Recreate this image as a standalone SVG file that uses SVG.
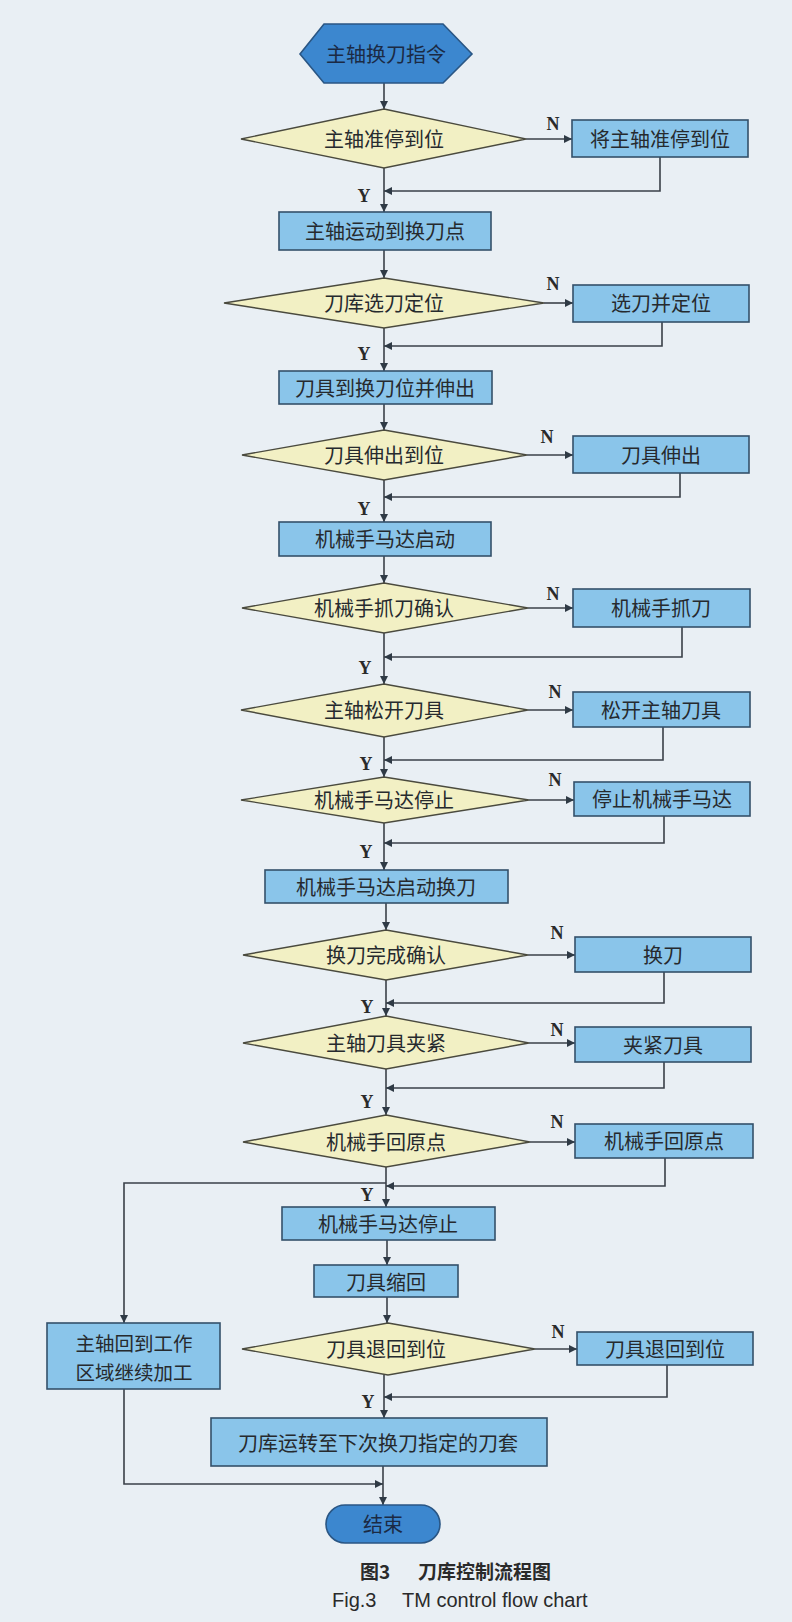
<svg xmlns="http://www.w3.org/2000/svg" width="792" height="1622" viewBox="0 0 792 1622">
<defs>
<marker id="ah" viewBox="0 0 10 10" refX="10" refY="5" markerWidth="8" markerHeight="8" markerUnits="userSpaceOnUse" orient="auto">
<path d="M0,0 L10,5 L0,10 z" fill="#2f3a45"/>
</marker>
<style>
.bg{fill:#e9eff4}
.box{fill:#8ac5ea;stroke:#34506a;stroke-width:1.6}
.dia{fill:#f2f0c4;stroke:#4a4a3e;stroke-width:1.4}
.term{fill:#3c87cf;stroke:#2a5684;stroke-width:1.6}
.t{font-family:"Noto Sans CJK SC","Noto Sans CJK JP",sans-serif;font-size:20px;fill:#262a2e;text-anchor:middle;dominant-baseline:central}
.t2{font-family:"Noto Sans CJK SC","Noto Sans CJK JP",sans-serif;font-size:19.5px;fill:#262a2e;text-anchor:middle;dominant-baseline:central}
.tt{font-family:"Noto Sans CJK SC","Noto Sans CJK JP",sans-serif;font-size:20px;fill:#1b2a44;text-anchor:middle;dominant-baseline:central}
.yn{font-family:"Liberation Serif",serif;font-size:18px;font-weight:bold;fill:#2a2a2a;text-anchor:middle}
.c{fill:none;stroke:#3a4048;stroke-width:1.6}
.cap1{font-family:"Noto Sans CJK SC",sans-serif;font-size:19px;font-weight:bold;fill:#2a2a2a}
.cap2{font-family:"Liberation Sans",Arial,sans-serif;font-size:20px;fill:#2a2a2a}
</style>
</defs>
<rect class="bg" x="0" y="0" width="792" height="1622"/>

<g id="connectors">
<path class="c" marker-end="url(#ah)" d="M384,83 L384,109"/>
<path class="c" marker-end="url(#ah)" d="M526,139 L572,139"/>
<path class="c" marker-end="url(#ah)" d="M660,157 L660,191 L384,191"/>
<path class="c" marker-end="url(#ah)" d="M384,168 L384,212"/>
<path class="c" marker-end="url(#ah)" d="M384,250 L384,278"/>
<path class="c" marker-end="url(#ah)" d="M544,303 L573,303"/>
<path class="c" marker-end="url(#ah)" d="M662,322 L662,346 L384,346"/>
<path class="c" marker-end="url(#ah)" d="M384,328 L384,371"/>
<path class="c" marker-end="url(#ah)" d="M384,404 L384,430"/>
<path class="c" marker-end="url(#ah)" d="M527,455 L573,455"/>
<path class="c" marker-end="url(#ah)" d="M680,473 L680,497 L384,497"/>
<path class="c" marker-end="url(#ah)" d="M384,480 L384,522"/>
<path class="c" marker-end="url(#ah)" d="M384,556 L384,583"/>
<path class="c" marker-end="url(#ah)" d="M528,608 L573,608"/>
<path class="c" marker-end="url(#ah)" d="M682,627 L682,657 L384,657"/>
<path class="c" marker-end="url(#ah)" d="M384,633 L384,684"/>
<path class="c" marker-end="url(#ah)" d="M528,710 L573,710"/>
<path class="c" marker-end="url(#ah)" d="M663,727 L663,760 L384,760"/>
<path class="c" marker-end="url(#ah)" d="M384,737 L384,777"/>
<path class="c" marker-end="url(#ah)" d="M529,800 L574,800"/>
<path class="c" marker-end="url(#ah)" d="M664,816 L664,843 L384,843"/>
<path class="c" marker-end="url(#ah)" d="M384,823 L384,870"/>
<path class="c" marker-end="url(#ah)" d="M386,903 L386,930"/>
<path class="c" marker-end="url(#ah)" d="M528,955 L575,955"/>
<path class="c" marker-end="url(#ah)" d="M664,972 L664,1003 L386,1003"/>
<path class="c" marker-end="url(#ah)" d="M386,980 L386,1016"/>
<path class="c" marker-end="url(#ah)" d="M529,1043 L575,1043"/>
<path class="c" marker-end="url(#ah)" d="M664,1062 L664,1088 L386,1088"/>
<path class="c" marker-end="url(#ah)" d="M386,1069 L386,1115"/>
<path class="c" marker-end="url(#ah)" d="M530,1142 L575,1142"/>
<path class="c" marker-end="url(#ah)" d="M665,1158 L665,1186 L386,1186"/>
<path class="c" marker-end="url(#ah)" d="M386,1167 L386,1207"/>
<path class="c" marker-end="url(#ah)" d="M386,1183 L124,1183 L124,1323"/>
<path class="c" marker-end="url(#ah)" d="M387,1240 L387,1265"/>
<path class="c" marker-end="url(#ah)" d="M387,1297 L387,1323"/>
<path class="c" marker-end="url(#ah)" d="M535,1349 L577,1349"/>
<path class="c" marker-end="url(#ah)" d="M667,1365 L667,1397 L384,1397"/>
<path class="c" marker-end="url(#ah)" d="M384,1375 L384,1418"/>
<path class="c" marker-end="url(#ah)" d="M383,1466 L383,1505"/>
<path class="c" marker-end="url(#ah)" d="M124,1389 L124,1484 L383,1484"/>
<text class="yn" x="553" y="130">N</text>
<text class="yn" x="364" y="202">Y</text>
<text class="yn" x="553" y="290">N</text>
<text class="yn" x="364" y="360">Y</text>
<text class="yn" x="547" y="443">N</text>
<text class="yn" x="364" y="515">Y</text>
<text class="yn" x="553" y="600">N</text>
<text class="yn" x="365" y="674">Y</text>
<text class="yn" x="555" y="698">N</text>
<text class="yn" x="366" y="770">Y</text>
<text class="yn" x="555" y="786">N</text>
<text class="yn" x="366" y="858">Y</text>
<text class="yn" x="557" y="939">N</text>
<text class="yn" x="367" y="1013">Y</text>
<text class="yn" x="557" y="1036">N</text>
<text class="yn" x="367" y="1108">Y</text>
<text class="yn" x="557" y="1128">N</text>
<text class="yn" x="367" y="1201">Y</text>
<text class="yn" x="558" y="1338">N</text>
<text class="yn" x="368" y="1408">Y</text>
</g>

<g id="start"><polygon class="term" points="300,54 324,24 443,24 472,54 443,83 324,83"/><text class="tt" x="386" y="53">主轴换刀指令</text></g>
<g id="d1"><polygon class="dia" points="384,109 526,139 384,168 241,139"/><text class="t" x="384" y="138">主轴准停到位</text></g>
<g id="b1n"><rect class="box" x="572" y="120" width="176" height="37"/><text class="t" x="660" y="138">将主轴准停到位</text></g>
<g id="b2"><rect class="box" x="279" y="212" width="212" height="38"/><text class="t" x="385" y="230">主轴运动到换刀点</text></g>
<g id="d2"><polygon class="dia" points="384,278 544,303 384,328 224,303"/><text class="t" x="384" y="302">刀库选刀定位</text></g>
<g id="b2n"><rect class="box" x="573" y="285" width="176" height="37"/><text class="t" x="661" y="302">选刀并定位</text></g>
<g id="b3"><rect class="box" x="279" y="371" width="213" height="33"/><text class="t" x="385" y="387">刀具到换刀位并伸出</text></g>
<g id="d3"><polygon class="dia" points="384,430 527,455 384,480 242,455"/><text class="t" x="384" y="454">刀具伸出到位</text></g>
<g id="b3n"><rect class="box" x="573" y="436" width="176" height="37"/><text class="t" x="661" y="454">刀具伸出</text></g>
<g id="b4"><rect class="box" x="279" y="522" width="212" height="34"/><text class="t" x="385" y="538">机械手马达启动</text></g>
<g id="d4"><polygon class="dia" points="384,583 528,608 384,633 242,608"/><text class="t" x="384" y="607">机械手抓刀确认</text></g>
<g id="b4n"><rect class="box" x="573" y="589" width="177" height="38"/><text class="t" x="661" y="607">机械手抓刀</text></g>
<g id="d5"><polygon class="dia" points="384,684 528,710 384,737 241,710"/><text class="t" x="384" y="709">主轴松开刀具</text></g>
<g id="b5n"><rect class="box" x="573" y="692" width="177" height="35"/><text class="t" x="661" y="709">松开主轴刀具</text></g>
<g id="d6"><polygon class="dia" points="384,777 529,800 384,823 241,800"/><text class="t" x="384" y="799">机械手马达停止</text></g>
<g id="b6n"><rect class="box" x="574" y="782" width="176" height="34"/><text class="t" x="662" y="798">停止机械手马达</text></g>
<g id="b7"><rect class="box" x="265" y="870" width="243" height="33"/><text class="t" x="386" y="886">机械手马达启动换刀</text></g>
<g id="d7"><polygon class="dia" points="386,930 528,955 386,980 243,955"/><text class="t" x="386" y="954">换刀完成确认</text></g>
<g id="b7n"><rect class="box" x="575" y="937" width="176" height="35"/><text class="t" x="663" y="954">换刀</text></g>
<g id="d8"><polygon class="dia" points="386,1016 529,1043 386,1069 243,1043"/><text class="t" x="386" y="1042">主轴刀具夹紧</text></g>
<g id="b8n"><rect class="box" x="575" y="1027" width="176" height="35"/><text class="t" x="663" y="1044">夹紧刀具</text></g>
<g id="d9"><polygon class="dia" points="386,1115 530,1142 386,1167 243,1142"/><text class="t" x="386" y="1141">机械手回原点</text></g>
<g id="b9n"><rect class="box" x="575" y="1124" width="178" height="34"/><text class="t" x="664" y="1140">机械手回原点</text></g>
<g id="b10"><rect class="box" x="282" y="1207" width="213" height="33"/><text class="t" x="388" y="1223">机械手马达停止</text></g>
<g id="b11"><rect class="box" x="314" y="1265" width="144" height="32"/><text class="t" x="386" y="1281">刀具缩回</text></g>
<g id="d10"><polygon class="dia" points="388,1323 535,1349 388,1375 242,1349"/><text class="t" x="386" y="1348">刀具退回到位</text></g>
<g id="b10n"><rect class="box" x="577" y="1332" width="176" height="33"/><text class="t" x="665" y="1348">刀具退回到位</text></g>
<g id="b12"><rect class="box" x="211" y="1418" width="336" height="48"/><text class="t" x="378" y="1442">刀库运转至下次换刀指定的刀套</text></g>
<g id="left"><rect class="box" x="47" y="1323" width="173" height="66"/><text class="t2" x="134" y="1342">主轴回到工作</text><text class="t2" x="134" y="1371">区域继续加工</text></g>
<g id="end"><rect class="term" x="326" y="1505" width="114" height="38" rx="19" ry="19"/><text class="tt" x="383" y="1523">结束</text></g>

<g id="caption">
<text class="cap1" x="360" y="1579">图3</text>
<text class="cap1" x="418" y="1579">刀库控制流程图</text>
<text class="cap2" x="332" y="1607">Fig.3</text>
<text class="cap2" x="402" y="1607">TM control flow chart</text>
</g>
</svg>
